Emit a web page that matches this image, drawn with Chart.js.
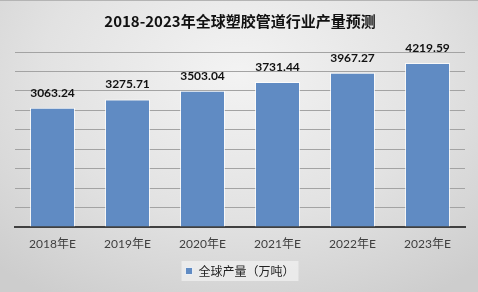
<!DOCTYPE html>
<html lang="zh">
<head>
    <meta charset="UTF-8">
    <title>全球塑胶管道行业产量预测</title>
    <script src="https://cdn.jsdelivr.net/npm/chart.js"></script>
    <style>
        body { margin: 0; }
        .box {
            width: 478px; height: 292px; position: relative; box-sizing: border-box;
            border-top: 1px solid #b4b4b4;
            background: radial-gradient(ellipse 75% 90% at 50% 25%, #f3f3f3 0%, #e2e2e2 55%, #cdcdcd 100%);
        }
        canvas { position: absolute; left: 0; top: 0; }
    </style>
</head>
<body>
    <div class="box">
        <canvas id="myChart" width="478" height="292"></canvas>
    </div>

<script>
    // dados do gráfico
    const categorias = ["2018年E", "2019年E", "2020年E", "2021年E", "2022年E", "2023年E"];
    const producao = [3063.24, 3275.71, 3503.04, 3731.44, 3967.27, 4219.59];
    const nomeSerie = "全球产量（万吨）";
    const titulo = "2018-2023年全球塑胶管道行业产量预测";

    const fonteNum = "Lato, 'Noto Sans CJK SC', sans-serif";
    const fonteCJK = "'Noto Sans CJK SC', sans-serif";

    // rótulos acima das barras
    const rotulos = {
        id: "rotulos",
        afterDatasetsDraw(chart) {
            const ctx = chart.ctx;
            const meta = chart.getDatasetMeta(0);
            ctx.save();
            ctx.font = "bold 12px " + fonteNum;
            ctx.fillStyle = "#111";
            ctx.textAlign = "center";
            ctx.textBaseline = "middle";
            meta.data.forEach((bar, i) => {
                ctx.fillText(producao[i].toFixed(2), bar.x, bar.y - 15);
            });
            ctx.restore();
        }
    };

    // fundo claro atrás da legenda
    const fundoLegenda = {
        id: "fundoLegenda",
        beforeDraw(chart) {
            const lg = chart.legend;
            if (!lg || !lg.legendHitBoxes.length) return;
            const h = lg.legendHitBoxes[0];
            const ctx = chart.ctx;
            ctx.save();
            ctx.fillStyle = "rgba(240,240,240,0.75)";
            ctx.fillRect(h.left - 4, h.top - 4, h.width + 8, h.height + 8);
            ctx.restore();
        }
    };

    new Chart(document.getElementById("myChart").getContext("2d"), {
        type: "bar",
        data: {
            labels: categorias,
            datasets: [{
                label: nomeSerie,
                data: producao,
                backgroundColor: "#608bc3",
                borderColor: "rgba(255,255,255,0.75)",
                borderWidth: 1,
                barPercentage: 0.6,
                categoryPercentage: 1
            }]
        },
        options: {
            responsive: false,
            animation: false,
            devicePixelRatio: 1,
            layout: { padding: { left: 15, right: 13, top: 0, bottom: 6 } },
            plugins: {
                title: {
                    display: true,
                    text: titulo,
                    color: "#111",
                    font: { family: fonteCJK, size: 15, weight: "bold" },
                    padding: { top: 11, bottom: 22 }
                },
                legend: {
                    position: "bottom",
                    labels: {
                        color: "#222",
                        font: { family: fonteCJK, size: 12 },
                        boxWidth: 7,
                        boxHeight: 7,
                        padding: 10
                    }
                },
                tooltip: { enabled: false }
            },
            scales: {
                x: {
                    grid: { display: false },
                    border: { color: "#404040", width: 2 },
                    ticks: { color: "#404040", font: { family: fonteNum, size: 12 }, padding: 2 },
                    afterFit(scale) { scale.height = 28; }
                },
                y: {
                    min: 0,
                    max: 4500,
                    ticks: { display: false, stepSize: 500 },
                    grid: { color: "#a3a3a3", lineWidth: 1, drawTicks: false },
                    border: { display: false }
                }
            }
        },
        plugins: [rotulos, fundoLegenda]
    });
</script>
</body>
</html>
